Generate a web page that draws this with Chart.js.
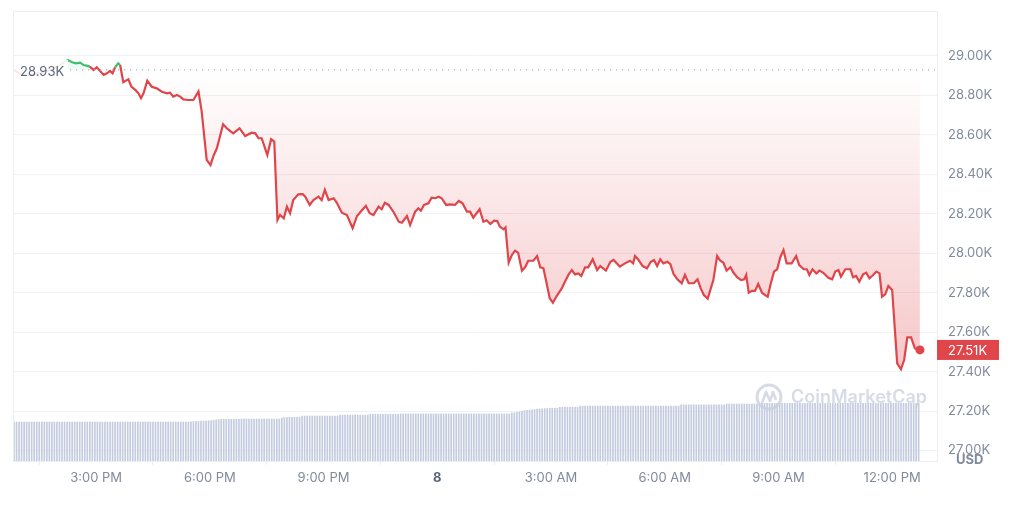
<!DOCTYPE html>
<html>
<head>
<meta charset="utf-8">
<script src="https://cdn.jsdelivr.net/npm/chart.js@4.4.0/dist/chart.umd.min.js"></script>
<style>
    html, body { margin: 0; padding: 0; background: #fff; }
    #wrap { width: 1024px; height: 507px; position: relative; }
</style>
</head>
<body>
<div id="wrap"><canvas id="priceChart"></canvas></div>
<script>
// Price data: minutes since midnight of day 7, price in USD
const openPrice = 28930;
const priceTimes = [
    770, 783, 796, 811, 827, 840, 855, 862, 868, 875, 880, 885, 890, 896, 901, 906, 912, 917, 922, 926,
    930, 935, 938, 943, 947, 951, 956, 962, 967, 971, 975, 981, 988, 996, 1004, 1012, 1017, 1022, 1028, 1033,
    1038, 1046, 1054, 1062, 1067, 1075, 1081, 1086, 1091, 1101, 1107, 1117, 1127, 1136, 1146, 1152, 1157, 1162, 1171, 1177,
    1182, 1187, 1191, 1197, 1202, 1207, 1212, 1220, 1227, 1231, 1238, 1244, 1252, 1257, 1262, 1268, 1276, 1281, 1289, 1297,
    1306, 1313, 1321, 1327, 1333, 1339, 1347, 1352, 1357, 1363, 1371, 1379, 1384, 1392, 1397, 1405, 1410, 1414, 1419, 1426,
    1431, 1437, 1442, 1447, 1454, 1460, 1468, 1474, 1480, 1487, 1492, 1497, 1507, 1513, 1518, 1524, 1530, 1535, 1539, 1545,
    1548, 1553, 1558, 1563, 1568, 1574, 1579, 1584, 1592, 1598, 1603, 1608, 1612, 1618, 1623, 1629, 1637, 1642, 1648, 1653,
    1658, 1663, 1668, 1674, 1679, 1686, 1693, 1698, 1707, 1714, 1719, 1724, 1729, 1737, 1745, 1750, 1753, 1758, 1765, 1772,
    1778, 1783, 1788, 1793, 1798, 1804, 1809, 1814, 1820, 1827, 1832, 1838, 1846, 1852, 1857, 1862, 1868, 1877, 1883, 1888,
    1893, 1898, 1904, 1909, 1915, 1921, 1926, 1929, 1933, 1938, 1943, 1948, 1954, 1959, 1963, 1968, 1973, 1978, 1983, 1988,
    1993, 2001, 2008, 2013, 2020, 2025, 2029, 2034, 2040, 2045, 2051, 2059, 2065, 2070, 2075, 2079, 2086, 2094, 2098, 2103,
    2108, 2114, 2119, 2124, 2130, 2135, 2140, 2144, 2149, 2154, 2160, 2168, 2174, 2179, 2184, 2190, 2196, 2204
];
const prices = [
    28929, 28904, 28904, 28914, 28929, 28949, 28980, 28968, 28963, 28966, 28954, 28951, 28946, 28929, 28943, 28925, 28904, 28912, 28924, 28912,
    28943, 28963, 28954, 28867, 28875, 28882, 28844, 28828, 28811, 28786, 28811, 28875, 28844, 28836, 28819, 28811, 28814, 28794, 28802, 28794,
    28780, 28777, 28777, 28820, 28721, 28473, 28447, 28496, 28531, 28654, 28633, 28608, 28633, 28594, 28611, 28608, 28583, 28583, 28498, 28578,
    28566, 28169, 28194, 28177, 28236, 28203, 28270, 28299, 28300, 28287, 28245, 28270, 28287, 28270, 28321, 28270, 28279, 28256, 28206, 28194,
    28127, 28189, 28219, 28240, 28203, 28194, 28236, 28223, 28256, 28245, 28208, 28160, 28155, 28189, 28143, 28211, 28228, 28216, 28245, 28253,
    28282, 28279, 28287, 28279, 28245, 28248, 28245, 28265, 28253, 28211, 28211, 28180, 28223, 28160, 28167, 28148, 28165, 28163, 28135, 28121,
    28131, 27952, 27991, 28013, 28003, 27912, 27929, 27962, 27962, 27986, 27929, 27924, 27864, 27772, 27749, 27783, 27822, 27856, 27893, 27915,
    27893, 27898, 27885, 27929, 27929, 27969, 27915, 27935, 27912, 27957, 27966, 27949, 27932, 27949, 27962, 27949, 27986, 27969, 27935, 27924,
    27957, 27966, 27935, 27969, 27949, 27957, 27945, 27895, 27868, 27848, 27890, 27848, 27848, 27868, 27822, 27788, 27770, 27864, 27986, 27962,
    27952, 27912, 27929, 27901, 27878, 27864, 27868, 27890, 27800, 27810, 27809, 27844, 27800, 27788, 27780, 27848, 27907, 27919, 27980, 28016,
    27949, 27949, 27986, 27940, 27919, 27919, 27890, 27919, 27898, 27912, 27901, 27876, 27868, 27907, 27915, 27881, 27919, 27919, 27878, 27885,
    27856, 27893, 27901, 27873, 27890, 27907, 27898, 27780, 27792, 27834, 27814, 27442, 27412, 27459, 27574, 27574, 27518, 27510
];

// Volume bars (billions USD), one every 4 minutes from 12:50 PM
const volumeStart = 770;
const volumeStep = 4;
const volumes = [
    13.0, 13.0, 13.0, 13.0, 13.0, 13.0, 13.0, 13.0, 13.0, 13.0,
    13.0, 13.0, 13.0, 13.0, 13.0, 13.0, 13.0, 13.0, 13.0, 13.0,
    13.0, 13.0, 13.0, 13.0, 13.0, 13.0, 13.0, 13.0, 13.0, 13.0,
    13.0, 13.0, 13.0, 13.0, 13.0, 13.0, 13.0, 13.0, 13.0, 13.0,
    13.0, 13.0, 13.0, 13.0, 13.0, 13.0, 13.0, 13.0, 13.0, 13.0,
    13.0, 13.0, 13.0, 13.0, 13.0, 13.0, 13.0, 13.0, 13.0, 13.0,
    13.0, 13.0, 13.0, 13.0, 13.0, 13.0, 13.0, 13.0, 13.0, 13.0,
    13.1, 13.1, 13.2, 13.2, 13.3, 13.3, 13.3, 13.4, 13.5, 13.6,
    13.7, 13.8, 13.9, 13.9, 13.9, 13.9, 13.9, 13.9, 13.9, 13.9,
    14.0, 14.0, 14.0, 14.0, 14.0, 14.0, 14.0, 14.0, 14.0, 14.0,
    14.0, 14.0, 14.0, 14.0, 14.0, 14.0, 14.3, 14.5, 14.5, 14.6,
    14.6, 14.6, 14.6, 14.6, 15.0, 15.0, 15.0, 15.0, 15.0, 15.0,
    15.0, 15.0, 15.0, 15.0, 15.0, 15.0, 15.0, 15.0, 15.0, 15.3,
    15.3, 15.3, 15.3, 15.3, 15.3, 15.3, 15.3, 15.3, 15.3, 15.3,
    15.3, 15.6, 15.6, 15.6, 15.6, 15.6, 15.6, 15.6, 15.6, 15.6,
    15.6, 15.6, 15.6, 15.7, 15.7, 15.7, 15.7, 15.7, 15.7, 15.7,
    15.7, 15.7, 15.7, 15.7, 15.7, 15.7, 15.7, 15.7, 15.7, 15.7,
    15.7, 15.7, 15.7, 15.7, 15.7, 15.7, 15.7, 15.7, 15.7, 15.7,
    15.7, 15.7, 15.7, 15.7, 15.7, 15.7, 15.7, 15.7, 15.7, 15.7,
    15.7, 15.7, 15.7, 15.7, 15.7, 15.7, 15.7, 16.0, 16.1, 16.2,
    16.4, 16.6, 16.8, 16.9, 17.0, 17.1, 17.2, 17.3, 17.3, 17.4,
    17.5, 17.5, 17.6, 17.6, 17.6, 17.6, 17.9, 17.9, 17.9, 17.9,
    17.9, 17.9, 17.9, 17.9, 18.3, 18.3, 18.3, 18.3, 18.3, 18.3,
    18.3, 18.3, 18.3, 18.3, 18.3, 18.3, 18.3, 18.3, 18.3, 18.3,
    18.3, 18.3, 18.3, 18.3, 18.3, 18.3, 18.3, 18.3, 18.3, 18.3,
    18.3, 18.3, 18.3, 18.3, 18.3, 18.3, 18.3, 18.3, 18.3, 18.3,
    18.3, 18.3, 18.3, 18.3, 18.7, 18.7, 18.7, 18.7, 18.7, 18.7,
    18.7, 18.7, 18.7, 18.7, 18.7, 18.7, 18.7, 18.7, 18.7, 18.7,
    18.7, 18.7, 19.0, 19.0, 19.0, 19.0, 19.0, 19.0, 19.0, 19.0,
    19.0, 19.0, 19.0, 19.0, 19.0, 19.0, 19.2, 19.2, 19.2, 19.2,
    19.2, 19.2, 19.2, 19.2, 19.2, 19.2, 19.2, 19.2, 19.2, 19.2,
    19.2, 19.2, 19.2, 19.2, 19.2, 19.2, 19.2, 19.2, 19.2, 19.2,
    19.2, 19.2, 19.2, 19.2, 19.2, 19.2, 19.2, 19.2, 19.2, 19.2,
    19.2, 19.2, 19.2, 19.2, 19.2, 19.2, 19.2, 19.2, 19.2, 19.2,
    19.2, 19.2, 19.2, 19.2, 19.2, 19.2, 19.2, 19.2, 19.2, 19.2,
    19.2, 19.2, 19.2, 19.2, 19.2, 19.2, 19.2, 19.2, 19.2
];

// Axis ticks
const yTicks = [27000, 27200, 27400, 27600, 27800, 28000, 28200, 28400, 28600, 28800, 29000];
const xTicks = [900, 1080, 1260, 1440, 1620, 1800, 1980, 2160];
const xTickLabels = ['3:00 PM', '6:00 PM', '9:00 PM', '8', '3:00 AM', '6:00 AM', '9:00 AM', '12:00 PM'];

const RED = '#e0454a';
const GREEN = '#3fbf6f';
const AXIS_GRAY = '#808a9d';

Chart.defaults.font.family = 'Inter, "Noto Sans", sans-serif';
Chart.defaults.font.size = 13;

const pricePoints = priceTimes.map((t, i) => ({ x: t, y: prices[i] }));
const volumePoints = volumes.map((v, i) => ({ x: volumeStart + i * volumeStep, y: v }));

// gradient under the price line, built once the chart area is known
const fillGradientPlugin = {
    id: 'fillGradient',
    afterLayout(chart) {
        const ds = chart.data.datasets[0];
        if (ds.fill.below !== 'transparent') return;
        const y = chart.scales.y;
        const g = chart.ctx.createLinearGradient(0, y.getPixelForValue(openPrice), 0, y.getPixelForValue(27400));
        g.addColorStop(0, 'rgba(224, 69, 74, 0.0)');
        g.addColorStop(1, 'rgba(224, 69, 74, 0.30)');
        ds.fill.below = g;
    }
};

const framePlugin = {
    id: 'frame',
    beforeDatasetsDraw(chart) {
        const { ctx, chartArea: a } = chart;
        ctx.save();
        ctx.strokeStyle = '#eceef2';
        ctx.lineWidth = 1;
        ctx.strokeRect(a.left - 0.5, a.top - 0.5, a.right - a.left + 1, a.bottom - a.top + 1);
        ctx.restore();
    }
};

const overlayPlugin = {
    id: 'overlay',
    afterDatasetsDraw(chart) {
        const { ctx, chartArea: a, scales: { y } } = chart;
        const yOpen = y.getPixelForValue(openPrice);
        const lastPrice = prices[prices.length - 1];
        const yLast = y.getPixelForValue(lastPrice);
        ctx.save();

        // dotted opening price line
        ctx.strokeStyle = '#a9b2c3';
        ctx.lineWidth = 1.2;
        ctx.setLineDash([1.2, 4.8]);
        ctx.beginPath();
        ctx.moveTo(a.left + 56, yOpen);
        ctx.lineTo(a.right - 2, yOpen);
        ctx.stroke();
        ctx.setLineDash([]);

        // opening price label
        ctx.fillStyle = 'rgba(255, 255, 255, 0.88)';
        ctx.fillRect(a.left, yOpen - 10, 54, 22);
        ctx.fillStyle = '#58667e';
        ctx.font = '13px Inter, sans-serif';
        ctx.textBaseline = 'middle';
        ctx.textAlign = 'left';
        ctx.fillText((openPrice / 1000).toFixed(2) + 'K', a.left + 6, yOpen + 2);

        // last price tag
        ctx.fillStyle = RED;
        ctx.fillRect(a.right, yLast - 10, 62, 20);
        ctx.fillStyle = '#fff';
        ctx.fillText((lastPrice / 1000).toFixed(2) + 'K', a.right + 11, yLast + 1);

        // currency
        ctx.fillStyle = AXIS_GRAY;
        ctx.font = 'bold 13px Inter, sans-serif';
        ctx.fillText('USD', a.right + 19, a.bottom - 1);

        // watermark
        const wx = a.right - 168, wy = a.bottom - 64;
        ctx.strokeStyle = 'rgba(200, 207, 222, 0.75)';
        ctx.lineWidth = 3;
        ctx.beginPath();
        ctx.arc(wx, wy, 12, 0, Math.PI * 2);
        ctx.stroke();
        ctx.lineWidth = 2.6;
        ctx.lineJoin = 'round';
        ctx.beginPath();
        ctx.moveTo(wx - 7, wy + 6);
        ctx.lineTo(wx - 3, wy - 5);
        ctx.lineTo(wx + 1, wy + 4);
        ctx.lineTo(wx + 4, wy - 5);
        ctx.lineTo(wx + 7, wy + 3);
        ctx.stroke();
        ctx.fillStyle = 'rgba(200, 207, 222, 0.75)';
        ctx.font = '600 18px Inter, sans-serif';
        ctx.fillText('CoinMarketCap', wx + 22, wy + 1);

        ctx.restore();
    }
};

const ctx = document.getElementById('priceChart').getContext('2d');
window.priceChart = new Chart(ctx, {
    type: 'line',
    data: {
        datasets: [
            {
                type: 'line',
                data: pricePoints,
                borderWidth: 2.2,
                borderColor: RED,
                tension: 0,
                order: 0,
                yAxisID: 'y',
                fill: { target: { value: openPrice }, above: 'rgba(63, 191, 111, 0.08)', below: 'transparent' },
                segment: {
                    borderColor: c => (c.p0.parsed.y >= openPrice && c.p1.parsed.y >= openPrice) ? GREEN : RED
                },
                pointRadius: c => c.dataIndex === prices.length - 1 ? 4.5 : 0,
                pointBackgroundColor: RED,
                pointBorderWidth: 0,
                pointHoverRadius: 0
            },
            {
                type: 'bar',
                data: volumePoints,
                backgroundColor: '#c3cbdf',
                barThickness: 1,
                order: 1,
                yAxisID: 'yv'
            }
        ]
    },
    options: {
        responsive: true,
        maintainAspectRatio: false,
        animation: false,
        layout: { padding: { left: 14, top: 12, right: 0, bottom: 0 } },
        plugins: {
            legend: { display: false },
            tooltip: { enabled: false }
        },
        scales: {
            x: {
                type: 'linear',
                min: 770,
                max: 2231,
                offset: false,
                afterBuildTicks: s => { s.ticks = xTicks.map(v => ({ value: v })); },
                afterFit: s => { s.height = 46; s.paddingLeft = 0; s.paddingRight = 0; },
                grid: { drawOnChartArea: false, color: '#eceef2', tickLength: 4 },
                border: { display: false },
                ticks: {
                    autoSkip: false,
                    maxRotation: 0,
                    padding: 5,
                    callback: (v, i) => xTickLabels[i],
                    color: c => c.index === 3 ? '#58667e' : AXIS_GRAY,
                    font: c => c.index === 3 ? { size: 13, weight: 'bold' } : { size: 13 }
                }
            },
            y: {
                position: 'right',
                min: 26947,
                max: 29223,
                afterBuildTicks: s => { s.ticks = yTicks.map(v => ({ value: v })); },
                afterFit: s => { s.width = 87; s.paddingTop = 0; s.paddingBottom = 0; },
                grid: { color: '#f1f2f5', drawTicks: false },
                border: { display: false },
                ticks: {
                    padding: 11,
                    color: AXIS_GRAY,
                    callback: v => (v / 1000).toFixed(2) + 'K'
                }
            },
            yv: {
                display: false,
                min: 0,
                max: 149.7
            }
        }
    },
    plugins: [fillGradientPlugin, framePlugin, overlayPlugin]
});
</script>
</body>
</html>
